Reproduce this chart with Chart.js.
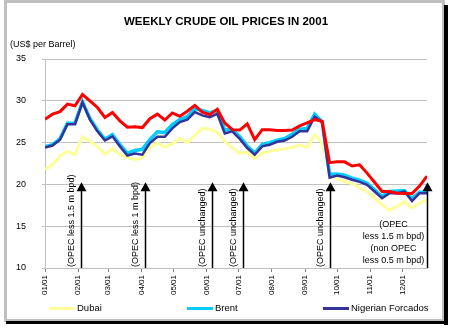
<!DOCTYPE html>
<html>
<head>
<meta charset="utf-8">
<script src="https://cdn.jsdelivr.net/npm/chart.js@4/dist/chart.umd.min.js"></script>
<style>
body { margin: 0; background: #fff; }
</style>
</head>
<body>
<canvas id="myChart" width="452" height="328"></canvas>
<script>
// day of year for each weekly price (week 1 = 01/01)
var weekDays = [0,7,14,21,28,35,42,49,56,63,70,77,84,91,98,105,112,119,126,133,140,147,154,161,168,175,
  182,189,196,203,210,217,224,231,238,245,252,259,266,273,280,287,294,301,308,315,322,329,336,343,350,357];

var Dubai = [21.8,22.35,23.4,23.95,23.6,25.7,25.15,24.55,23.6,24.3,23.55,23.2,22.95,23.2,24.4,24.95,24.45,24.85,25.5,25.0,25.85,26.7,26.6,26.25,25.1,24.4,
  23.7,23.85,23.05,23.75,23.95,24.15,24.25,24.45,24.7,24.45,25.95,24.95,21.35,20.65,20.35,20.1,19.6,19.15,18.35,17.55,16.9,17.35,17.95,17.15,17.75,18.15];
var Brent = [24.5,24.75,25.45,27.3,27.3,29.9,27.9,26.5,25.4,25.95,24.75,23.75,24.05,24.2,25.35,26.3,26.2,27.15,27.75,28.1,29.05,28.85,28.55,28.85,26.5,26.6,
  25.7,24.6,23.75,24.8,25.0,25.3,25.5,26.0,26.6,26.7,28.4,27.5,21.2,21.25,21.1,20.75,20.5,20.15,19.35,18.55,19.15,19.2,19.25,18.3,19.05,19.05];
var Nigerian = [24.4,24.65,25.35,27.2,27.2,29.8,27.75,26.35,25.25,25.75,24.55,23.45,23.7,23.55,24.95,25.7,25.7,26.7,27.45,27.75,28.65,28.25,28.05,28.45,26.1,26.35,
  25.45,24.35,23.55,24.55,24.75,25.1,25.25,25.7,26.35,26.35,28.1,27.45,20.8,21.05,20.85,20.55,20.3,19.95,19.15,18.35,18.95,18.95,19.15,18.0,18.95,18.95];
var WTI = [27.8,28.4,28.7,29.6,29.4,30.75,30.0,29.2,28.0,28.6,27.6,26.85,26.9,26.8,27.85,28.4,27.7,28.55,28.15,28.75,29.45,28.65,28.35,29.0,27.35,26.55,
  26.5,27.25,25.35,26.55,26.55,26.45,26.45,26.5,27.0,27.35,27.75,27.55,22.6,22.7,22.7,22.2,22.35,21.35,20.25,19.15,19.15,18.95,18.9,18.9,19.8,21.0];

var monthDays = [0,31,59,90,120,151,181,212,243,273,304,334];
var monthLabels = ['01/01','02/01','03/01','04/01','05/01','06/01','07/01','08/01','09/01','10/01','11/01','12/01'];
var yTicks = [10,15,20,25,30,35];

var eventDays = [34,93,156,185,266,357];
var eventLabels = ['(OPEC less 1.5 m bpd)','(OPEC less 1 m bpd)','(OPEC unchanged)','(OPEC unchanged)','(OPEC unchanged)',
  ['(OPEC','less 1.5 m bpd)','(non OPEC','less 0.5 m bpd)']];

function pts(vals) {
  return vals.map(function(v, i) { return {x: weekDays[i], y: v}; });
}

var FONT = '"Liberation Sans", Arial, sans-serif';

var decor = {
  id: 'decor',
  beforeDraw: function(chart) {
    var c = chart.ctx;
    c.save();
    c.fillStyle = '#fff';
    c.fillRect(0, 0, 452, 328);
    // frame
    c.strokeStyle = '#c0c0c0';
    c.lineWidth = 3;
    c.strokeRect(5.5, 1.5, 438, 319);
    c.fillStyle = '#000';
    c.fillRect(444, 5, 4, 320);
    c.fillRect(6, 321, 442, 3);
    // title
    c.fillStyle = '#000';
    c.font = 'bold 11.5px ' + FONT;
    c.textAlign = 'center';
    c.textBaseline = 'middle';
    c.fillText('WEEKLY CRUDE OIL PRICES IN 2001', 226, 22);
    c.font = '9px ' + FONT;
    c.textAlign = 'left';
    c.fillText('(US$ per Barrel)', 10, 45);
    c.restore();
  },
  afterDatasetsDraw: function(chart) {
    var c = chart.ctx, xs = chart.scales.x, ys = chart.scales.y;
    var base = ys.getPixelForValue(10), tip = ys.getPixelForValue(20.25);
    c.save();
    c.fillStyle = '#000';
    c.strokeStyle = '#000';
    c.font = '9px ' + FONT;
    eventDays.forEach(function(d, i) {
      var x = Math.round(xs.getPixelForValue(d)) + 0.5;
      c.lineWidth = 1.5;
      c.beginPath();
      c.moveTo(x, base);
      c.lineTo(x, tip + 6);
      c.stroke();
      c.beginPath();
      c.moveTo(x, tip);
      c.lineTo(x - 5, tip + 9);
      c.lineTo(x + 5, tip + 9);
      c.closePath();
      c.fill();
      var lab = eventLabels[i];
      if (Array.isArray(lab)) {
        c.textAlign = 'center';
        c.textBaseline = 'middle';
        for (var k = 0; k < lab.length; k++) {
          c.fillText(lab[k], x - 34, base - 7 - (lab.length - 1 - k) * 12);
        }
      } else {
        c.save();
        c.translate(x - 10, base - 1);
        c.rotate(-Math.PI / 2);
        c.textAlign = 'left';
        c.textBaseline = 'middle';
        c.fillText(lab, 0, 0);
        c.restore();
      }
    });
    c.restore();
  },
  afterDraw: function(chart) {
    // legend (the red series has no entry in the original)
    var c = chart.ctx;
    var lx = [49, 187, 323];
    c.save();
    c.font = '9.5px ' + FONT;
    c.textAlign = 'left';
    c.textBaseline = 'middle';
    chart.data.datasets.slice(0, 3).forEach(function(ds, i) {
      c.fillStyle = ds.borderColor;
      c.fillRect(lx[i], 307, 26, 3);
      c.fillStyle = '#000';
      c.fillText(ds.label, lx[i] + 28, 308.5);
    });
    c.restore();
  }
};

var ctx = document.getElementById('myChart');
var myChart = new Chart(ctx, {
  type: 'line',
  data: {
    datasets: [
      { label: 'Dubai', data: pts(Dubai), borderColor: '#FFFF99', borderWidth: 3, order: 4 },
      { label: 'Brent', data: pts(Brent), borderColor: '#00CCFF', borderWidth: 3.5, order: 3 },
      { label: 'Nigerian Forcados', data: pts(Nigerian), borderColor: '#333399', borderWidth: 2.5, order: 2 },
      { label: 'WTI', data: pts(WTI), borderColor: '#FF0000', borderWidth: 3, order: 1 }
    ]
  },
  options: {
    responsive: false,
    animation: false,
    devicePixelRatio: 1,
    layout: { padding: { left: 0, right: 25, top: 59, bottom: 30 } },
    elements: { point: { radius: 0 }, line: { tension: 0 } },
    plugins: { legend: { display: false }, title: { display: false }, tooltip: { enabled: false } },
    scales: {
      x: {
        type: 'linear',
        min: 0,
        max: 357,
        afterBuildTicks: function(scale) {
          scale.ticks = monthDays.map(function(v) { return {value: v}; });
        },
        afterFit: function(scale) { scale.height = 30; },
        grid: { drawOnChartArea: false, drawTicks: true, tickLength: 4, color: '#808080' },
        border: { color: '#c0c0c0' },
        ticks: {
          autoSkip: false,
          minRotation: 90,
          maxRotation: 90,
          padding: 3,
          color: '#000',
          font: { family: FONT, size: 8 },
          callback: function(v, i) { return monthLabels[i]; }
        }
      },
      y: {
        min: 10,
        max: 35,
        afterBuildTicks: function(scale) {
          scale.ticks = yTicks.map(function(v) { return {value: v}; });
        },
        afterFit: function(scale) { scale.width = 45; },
        grid: { color: '#c0c0c0', tickLength: 3 },
        border: { color: '#c0c0c0' },
        ticks: { padding: 16, color: '#000', font: { family: FONT, size: 9 } }
      }
    }
  },
  plugins: [decor]
});
</script>
</body>
</html>
